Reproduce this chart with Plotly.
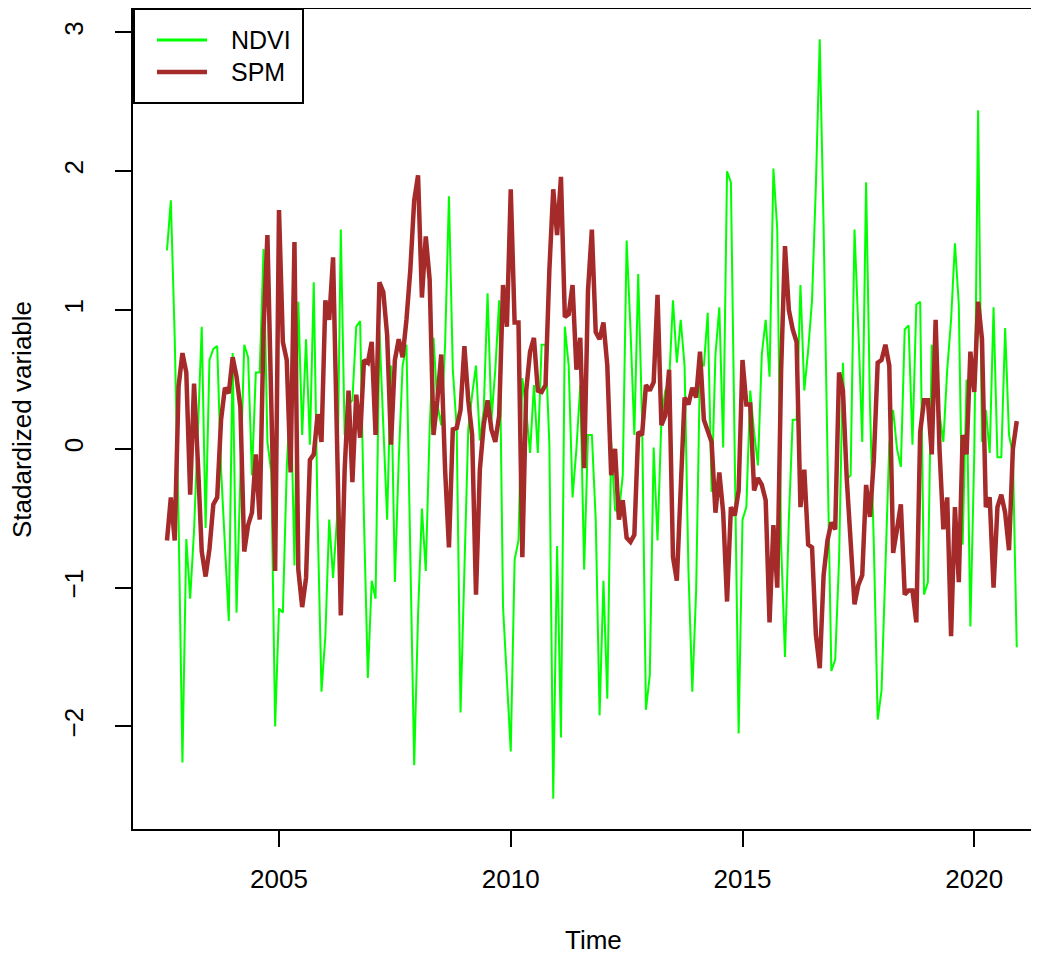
import plotly.graph_objects as go

# Monthly series, Aug 2002 .. Dec 2020 (standardized values)
start_year = 2002
start_month = 8

ndvi = [
    1.43, 1.79, 0.80, -0.52, -2.26, -0.65, -1.08, -0.59, 0.13, 0.88,
    -0.57, 0.64, 0.72, 0.74, -0.15, -0.69, -1.24, 0.69, -1.18, -0.20,
    0.75, 0.66, -0.19, 0.55, 0.55, 1.44, 0.05, -0.17, -2.00, -1.15,
    -1.18, -0.15, 0.45, -0.84, 1.06, 0.10, 0.79, 0.03, 1.20, -0.51,
    -1.75, -1.35, -0.51, -0.93, -0.51, 1.58, 0.10, 0.32, 0.35, 0.88,
    0.92, -0.51, -1.65, -0.95, -1.08, 0.85, 0.21, -0.51, 0.60, -0.96,
    -0.08, 0.60, 0.75, -0.87, -2.28, -1.20, -0.43, -0.88, 0.14, 0.80,
    0.32, 0.17, 0.75, 1.82, 0.57, 0.15, -1.90, -0.87, 0.14, 0.39,
    0.60, 0.06, 0.28, 1.12, 0.21, 0.57, 1.07, -1.14, -1.62, -2.18,
    -0.80, -0.66, 0.51, 0.28, -0.03, 0.46, -0.03, 0.75, 0.75, 0.03,
    -2.52, -0.70, -2.08, 0.88, 0.60, -0.35, 0.00, 0.46, -0.87, 0.10,
    0.10, -0.51, -1.92, -0.95, -1.80, 0.05, -0.44, -0.46, -0.19, 1.50,
    0.86, 0.10, 1.26, 0.21, -1.88, -1.63, 0.01, -0.66, 0.21, 0.42,
    0.48, 1.07, 0.62, 0.93, 0.60, -0.87, -1.75, -1.02, 0.60, 0.60,
    0.98, -0.31, 0.68, 1.02, 0.01, 2.00, 1.92, -0.15, -2.05, -0.51,
    -0.42, 0.42, 0.12, -0.12, 0.68, 0.93, 0.52, 2.02, 1.58, -0.69,
    -1.50, -0.51, 0.21, 0.21, 1.18, 0.42, 0.71, 1.07, 1.90, 2.95,
    1.60, -0.04, -1.60, -1.52, -0.80, 0.62, -0.22, -0.19, 1.58, 0.86,
    0.05, 1.92, 0.32, -0.69, -1.95, -1.74, -0.87, 0.03, 0.28, 0.00,
    -0.13, 0.86, 0.89, 0.03, 1.04, 1.06, -1.05, -0.96, 0.75, 0.50,
    0.25, 0.05, 0.57, 0.93, 1.48, 1.04, -0.69, 0.50, -1.28, -0.04,
    2.44, 0.05, 0.28, -0.03, 1.02, -0.06, -0.06, 0.87, 0.10, -0.04,
    -1.43,
]

spm = [
    -0.66, -0.35, -0.66, 0.45, 0.69, 0.55, -0.33, 0.47, -0.10, -0.74,
    -0.92, -0.72, -0.40, -0.35, 0.21, 0.44, 0.40, 0.66, 0.52, 0.30,
    -0.74, -0.55, -0.46, -0.04, -0.51, 0.86, 1.54, 0.14, -0.88, 1.72,
    0.77, 0.64, -0.17, 1.49, -0.87, -1.14, -0.93, -0.08, -0.04, 0.25,
    0.05, 1.07, 0.93, 1.38, 0.06, -1.20, -0.15, 0.42, -0.24, 0.39,
    0.08, 0.64, 0.62, 0.77, 0.10, 1.20, 1.13, 0.82, 0.03, 0.64,
    0.79, 0.66, 0.93, 1.29, 1.79, 1.97, 1.09, 1.53, 1.22, 0.10,
    0.35, 0.68, -0.15, -0.71, 0.14, 0.15, 0.28, 0.74, 0.35, 0.10,
    -1.05, -0.15, 0.17, 0.35, 0.14, 0.05, 0.24, 1.18, 0.88, 1.87,
    0.91, 0.91, -0.78, 0.42, 0.70, 0.80, 0.42, 0.41, 0.46, 1.29,
    1.87, 1.54, 1.96, 0.95, 0.97, 1.18, 0.57, 0.80, -0.14, 1.14,
    1.58, 0.84, 0.79, 0.91, 0.60, -0.19, 0.00, -0.51, -0.37, -0.64,
    -0.67, -0.62, 0.12, 0.10, 0.46, 0.42, 0.48, 1.11, 0.17, 0.24,
    0.57, -0.78, -0.95, -0.33, 0.37, 0.32, 0.44, 0.37, 0.70, 0.21,
    0.14, 0.05, -0.46, -0.17, -0.46, -1.10, -0.42, -0.48, -0.30, 0.64,
    0.32, 0.32, -0.30, -0.21, -0.26, -0.37, -1.25, -0.55, -1.00, 0.57,
    1.46, 1.00, 0.86, 0.77, -0.42, -0.15, -0.69, -0.71, -1.34, -1.58,
    -0.91, -0.66, -0.53, -0.58, 0.55, 0.42, -0.22, -0.69, -1.12, -0.98,
    -0.91, -0.26, -0.49, -0.08, 0.62, 0.64, 0.75, 0.60, -0.75, -0.58,
    -0.40, -1.05, -1.02, -1.02, -1.25, 0.12, 0.35, 0.35, -0.04, 0.93,
    0.00, -0.58, -0.35, -1.35, -0.42, -0.96, 0.10, -0.04, 0.70, 0.41,
    1.06, 0.79, -0.42, -0.35, -1.00, -0.42, -0.33, -0.46, -0.73, 0.00,
    0.20,
]

series_names = ["NDVI", "SPM"]
series_colors = ["#00FF00", "#A52A2A"]
series_widths = [2, 4.5]
x_ticks = [2005, 2010, 2015, 2020]
y_ticks = [-2, -1, 0, 1, 2, 3]

n = min(len(ndvi), len(spm))
time = [start_year + (start_month - 1) / 12 + k / 12 for k in range(n)]

FONT = "Liberation Sans, Arial, sans-serif"
FS = 26

fig = go.Figure()
for name, vals, col, wd in zip(series_names, [ndvi, spm], series_colors, series_widths):
    fig.add_trace(go.Scatter(x=time, y=vals[:n], mode="lines", name=name,
                             line=dict(color=col, width=wd), showlegend=False))

# R-style 4% axis extension
xmin, xmax = time[0], time[-1]
xr = xmax - xmin
x0 = xmin - 0.04 * xr
ymin, ymax = min(min(ndvi), min(spm)), max(max(ndvi), max(spm))
yr = ymax - ymin
y0, y1 = ymin - 0.04 * yr, ymax + 0.04 * yr

# page has an 8px body margin -> figure is 8px smaller than the window
W, H = 1031, 946
ml, mr, mt, mb = 125, 0, 1, 125
plot_w = W - ml - mr
plot_h = H - mt - mb
px_per_year = 46.35
x1 = x0 + plot_w / px_per_year

OFF = 8  # page offset of the figure


def px(xpage):
    return (xpage - OFF - ml) / plot_w


def py(ypage):
    return (H - mb - (ypage - OFF)) / plot_h


# legend drawn R-style (box in the top-left corner of the plot region)
shapes = [dict(type="rect", xref="paper", yref="paper",
               x0=px(134), x1=px(303), y0=py(103), y1=py(9),
               line=dict(color="black", width=2), fillcolor="white", layer="above")]
annotations = []
leg_rows = [40, 72]
for name, col, wd, yrow in zip(series_names, series_colors, series_widths, leg_rows):
    shapes.append(dict(type="line", xref="paper", yref="paper",
                       x0=px(157), x1=px(207), y0=py(yrow), y1=py(yrow),
                       line=dict(color=col, width=max(wd, 3)), layer="above"))
    annotations.append(dict(text=name, xref="paper", yref="paper", x=px(229), y=py(yrow),
                            xanchor="left", yanchor="middle", showarrow=False,
                            font=dict(size=FS - 1, family=FONT, color="black")))

annotations += [
    dict(text="Time", xref="paper", yref="paper", x=px(593), y=py(940),
         xanchor="center", yanchor="middle", showarrow=False,
         font=dict(size=FS, family=FONT, color="black")),
    dict(text="Stadardized variable", xref="paper", yref="paper",
         x=px(22), y=py(420), xanchor="center", yanchor="middle",
         textangle=-90, showarrow=False, font=dict(size=FS, family=FONT, color="black")),
]

fig.update_layout(
    width=W, height=H,
    margin=dict(l=ml, r=mr, t=mt, b=mb, autoexpand=False),
    paper_bgcolor="white", plot_bgcolor="white",
    font=dict(family=FONT, size=FS, color="black"),
    showlegend=False,
    xaxis=dict(range=[x0, x1], tickvals=x_ticks, ticktext=[str(v) for v in x_ticks],
               showgrid=False, zeroline=False, showline=True, mirror=True,
               linecolor="black", linewidth=2, ticks="outside", ticklen=16,
               tickwidth=2, tickcolor="black", ticklabelstandoff=10,
               tickfont=dict(size=FS, family=FONT, color="black")),
    yaxis=dict(range=[y0, y1], tickvals=y_ticks,
               showgrid=False, zeroline=False, showline=True, mirror=False,
               linecolor="black", linewidth=2, ticks="outside", ticklen=16,
               tickwidth=2, tickcolor="black", tickangle=-90, ticklabelstandoff=22,
               tickfont=dict(size=FS, family=FONT, color="black")),
    shapes=shapes,
    annotations=annotations,
)

fig.write_html("out.html")
